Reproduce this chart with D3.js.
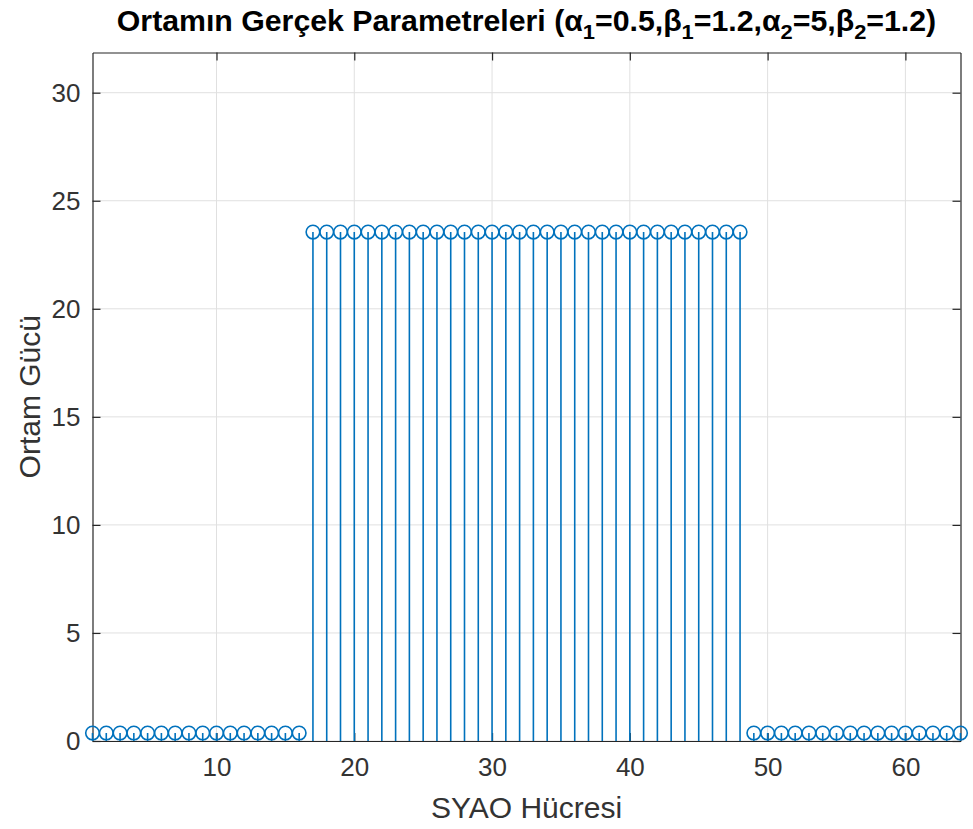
<!DOCTYPE html>
<html>
<head>
<meta charset="utf-8">
<script src="https://cdn.jsdelivr.net/npm/d3@7"></script>
<style>
  html, body { margin: 0; padding: 0; background: #fff; }
  svg { display: block; font-family: "Liberation Sans", Arial, Helvetica, sans-serif; }
</style>
</head>
<body>
<svg id="chart" width="973" height="829"></svg>
<script>
// Cells 1..64: inner band (17..48) carries the high mean power
const cells = d3.range(1, 65);
const lowPower = 0.37;
const highPower = 23.55;
const powerValues = cells.map(c => (c >= 17 && c <= 48) ? highPower : lowPower);

const xTicks = [10, 20, 30, 40, 50, 60];
const yTicks = [0, 5, 10, 15, 20, 25, 30];
const xDomain = [1, 64];
const yDomain = [0, 31.86];

const titleParts = [
  { t: "Ortamın Gerçek Parametreleri (α" }, { t: "1", sub: true },
  { t: "=0.5,β" }, { t: "1", sub: true },
  { t: "=1.2,α" }, { t: "2", sub: true },
  { t: "=5,β" }, { t: "2", sub: true },
  { t: "=1.2)" }
];

const svg = d3.select("#chart");
const W = 973, H = 829;
const margin = { left: 92.5, right: W - 960.5, top: 52.5, bottom: H - 741 };
const x = d3.scaleLinear().domain(xDomain).range([margin.left, W - margin.right]);
const y = d3.scaleLinear().domain(yDomain).range([H - margin.bottom, margin.top]);

const axisColor = "#262626";
const textColor = "#333333";
const gridColor = "#e0e0e0";
const blue = "#0072BD";

// grid
const grid = svg.append("g");
grid.selectAll("line.gx").data(xTicks).join("line")
  .attr("x1", d => x(d)).attr("x2", d => x(d))
  .attr("y1", y.range()[1]).attr("y2", y.range()[0])
  .attr("stroke", gridColor).attr("stroke-width", 1);
grid.selectAll("line.gy").data(yTicks).join("line")
  .attr("y1", d => y(d)).attr("y2", d => y(d))
  .attr("x1", x.range()[0]).attr("x2", x.range()[1])
  .attr("stroke", gridColor).attr("stroke-width", 1);

// axes with inward ticks on all four sides
const tickLen = 8;
function styleAxis(g) {
  g.selectAll("path.domain").attr("stroke", axisColor).attr("stroke-width", 1.2);
  g.selectAll(".tick line").attr("stroke", axisColor).attr("stroke-width", 1.2);
  g.selectAll(".tick text").attr("fill", textColor).attr("font-size", 26);
}
svg.append("g").attr("transform", `translate(0,${y(0)})`)
  .call(d3.axisBottom(x).tickValues(xTicks).tickSizeInner(-tickLen).tickSizeOuter(0).tickPadding(17))
  .call(styleAxis);
svg.append("g").attr("transform", `translate(0,${y.range()[1]})`)
  .call(d3.axisTop(x).tickValues(xTicks).tickSizeInner(-tickLen).tickSizeOuter(0).tickFormat(""))
  .call(styleAxis);
svg.append("g").attr("transform", `translate(${x.range()[0]},0)`)
  .call(d3.axisLeft(y).tickValues(yTicks).tickSizeInner(-tickLen).tickSizeOuter(0).tickPadding(12))
  .call(styleAxis);
svg.append("g").attr("transform", `translate(${x.range()[1]},0)`)
  .call(d3.axisRight(y).tickValues(yTicks).tickSizeInner(-tickLen).tickSizeOuter(0).tickFormat(""))
  .call(styleAxis);

// stems
const data = cells.map((c, i) => ({ c, v: powerValues[i] }));
const stems = svg.append("g");
stems.selectAll("line").data(data).join("line")
  .attr("x1", d => x(d.c)).attr("x2", d => x(d.c))
  .attr("y1", y(0)).attr("y2", d => y(d.v))
  .attr("stroke", blue).attr("stroke-width", 1.6);
stems.selectAll("circle").data(data).join("circle")
  .attr("cx", d => x(d.c)).attr("cy", d => y(d.v)).attr("r", 6.8)
  .attr("fill", "none").attr("stroke", blue).attr("stroke-width", 1.6);

// title
const titleX = (x.range()[0] + x.range()[1]) / 2;
const title = svg.append("text")
  .attr("x", titleX).attr("y", 31)
  .attr("text-anchor", "middle").attr("font-weight", "bold")
  .attr("font-size", 29).attr("fill", "#000");
titleParts.forEach((p, i) => {
  const ts = title.append("tspan").text(p.t);
  if (p.sub) ts.attr("dy", 8).attr("font-size", 21);
  else if (i > 0) ts.attr("dy", -8);
});
// fit the title to its target width
const tw = title.node().getComputedTextLength();
const targetW = 820;
title.attr("transform", `translate(${titleX},0) scale(${targetW / tw},1) translate(${-titleX},0)`);

// axis labels
svg.append("text")
  .attr("x", (x.range()[0] + x.range()[1]) / 2).attr("y", 818)
  .attr("text-anchor", "middle").attr("font-size", 30).attr("fill", textColor)
  .text("SYAO Hücresi");
svg.append("text")
  .attr("transform", `translate(40,${(y.range()[0] + y.range()[1]) / 2}) rotate(-90)`)
  .attr("text-anchor", "middle").attr("font-size", 30).attr("fill", textColor)
  .text("Ortam Gücü");
</script>
</body>
</html>
